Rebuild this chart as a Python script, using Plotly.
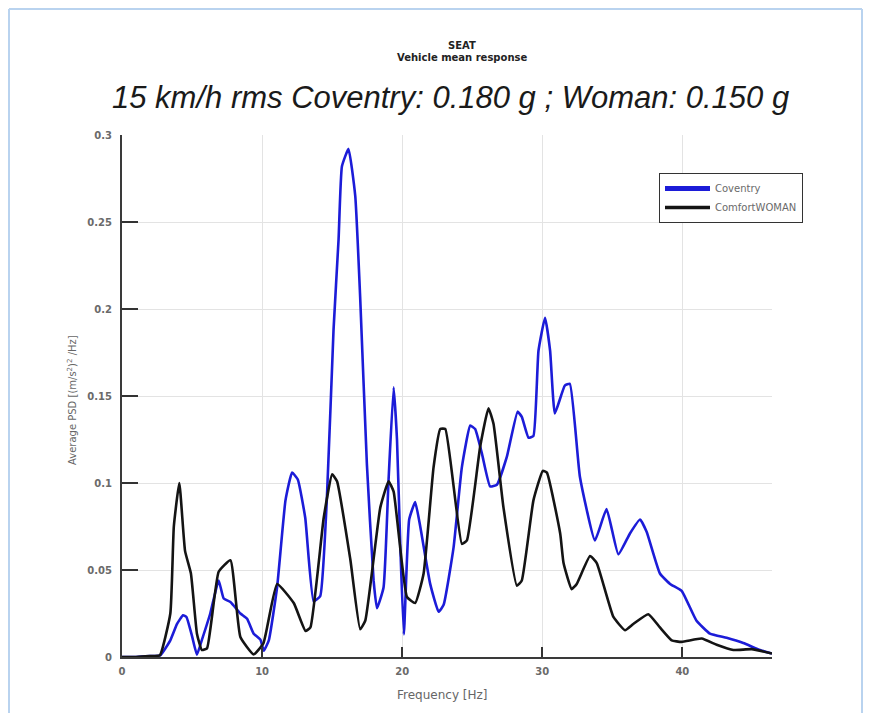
import plotly.graph_objects as go

# ---- data ----
freq_woman = [0, 1, 2, 2.7, 3.45, 3.7, 4.09, 4.5, 4.92, 5.35, 5.7, 6.07, 6.9, 7.74, 8.45, 9.4,
              10.1, 11.07, 12.26, 13.1, 13.45, 14.4, 15.0, 15.35, 16.3, 17.0, 17.37, 18.44,
              19.03, 19.39, 20.34, 20.93, 21.53, 22.24, 22.72, 23.08, 24.26, 24.62, 25.57,
              26.16, 26.52, 27.23, 28.19, 28.54, 29.37, 30.04, 30.33, 31.28, 31.52, 32.1,
              32.46, 33.41, 33.89, 35.08, 35.91, 36.5, 37.57, 38.4, 39.24, 39.95, 41.38,
              42.45, 43.64, 44.95, 46.4]
psd_woman = [0, 0, 0.0005, 0.001, 0.025, 0.075, 0.100, 0.061, 0.048, 0.0134, 0.004, 0.005,
             0.049, 0.0556, 0.0115, 0.0015, 0.008, 0.042, 0.031, 0.015, 0.017, 0.080, 0.105,
             0.101, 0.056, 0.016, 0.021, 0.086, 0.101, 0.095, 0.0345, 0.031, 0.048, 0.109,
             0.131, 0.131, 0.065, 0.067, 0.121, 0.143, 0.134, 0.086, 0.041, 0.044, 0.090,
             0.107, 0.106, 0.071, 0.054, 0.039, 0.042, 0.058, 0.054, 0.023, 0.0154, 0.019,
             0.0246, 0.017, 0.0096, 0.0087, 0.0106, 0.007, 0.004, 0.0045, 0.002]

freq_cov = [0, 1, 2, 2.73, 3.45, 3.93, 4.36, 4.6, 5.0, 5.35, 5.71, 6.3, 6.9, 7.26, 7.74, 8.45,
            8.93, 9.4, 9.88, 10.12, 10.48, 11.07, 11.67, 12.14, 12.55, 13.08, 13.68, 14.15,
            14.63, 15.1, 15.46, 15.7, 16.17, 16.65, 17.0, 17.48, 17.96, 18.2, 18.67, 19.03,
            19.39, 19.63, 19.87, 20.12, 20.5, 20.93, 21.29, 22.0, 22.6, 22.96, 23.67, 24.26,
            24.86, 25.21, 25.69, 26.28, 26.76, 27.47, 28.24, 28.54, 29.02, 29.37, 29.73,
            30.2, 30.56, 30.9, 31.61, 31.97, 32.69, 33.76, 34.59, 35.43, 36.26, 36.98,
            37.45, 38.4, 39.12, 39.95, 41.0, 41.97, 43.16, 44.35, 45.54, 46.4]
psd_cov = [0, 0, 0.0005, 0.001, 0.0096, 0.019, 0.024, 0.023, 0.012, 0.0013, 0.010, 0.025,
           0.044, 0.0336, 0.0316, 0.025, 0.022, 0.0134, 0.010, 0.0036, 0.0096, 0.040, 0.090,
           0.106, 0.102, 0.080, 0.032, 0.035, 0.092, 0.188, 0.240, 0.282, 0.292, 0.265,
           0.207, 0.111, 0.044, 0.028, 0.040, 0.102, 0.155, 0.125, 0.063, 0.013, 0.079,
           0.089, 0.075, 0.042, 0.026, 0.030, 0.063, 0.109, 0.133, 0.131, 0.117, 0.098,
           0.099, 0.115, 0.141, 0.138, 0.126, 0.127, 0.176, 0.195, 0.176, 0.140, 0.156,
           0.157, 0.1035, 0.067, 0.085, 0.059, 0.071, 0.079, 0.072, 0.048, 0.042, 0.038,
           0.021, 0.0134, 0.011, 0.008, 0.004, 0.002]

series_names = ["Coventry", "ComfortWOMAN"]
x_ticks = [0, 10, 20, 30, 40]
y_ticks = [0, 0.05, 0.1, 0.15, 0.2, 0.25, 0.3]
y_tick_labels = ["0", "0.05", "0.1", "0.15", "0.2", "0.25", "0.3"]

BLUE = "#1c1cd8"
BLACK = "#141414"

fig = go.Figure()
fig.add_trace(go.Scatter(x=freq_cov, y=psd_cov, mode="lines", showlegend=False,
                         line=dict(color=BLUE, width=2.6, shape="spline", smoothing=0.4)))
fig.add_trace(go.Scatter(x=freq_woman, y=psd_woman, mode="lines", showlegend=False,
                         line=dict(color=BLACK, width=2.6, shape="spline", smoothing=0.4)))
# legend entries (thicker legend lines as in reference)
fig.add_trace(go.Scatter(x=[None], y=[None], mode="lines", name=series_names[0],
                         line=dict(color=BLUE, width=5)))
fig.add_trace(go.Scatter(x=[None], y=[None], mode="lines", name=series_names[1],
                         line=dict(color=BLACK, width=3.5)))

TICKFONT = dict(family="DejaVu Sans", size=10, color="#6a6a6a", weight="bold")
axis_common = dict(showgrid=True, gridcolor="#e3e3e3", gridwidth=1, zeroline=False,
                   showline=True, linecolor="#3a3a3a", linewidth=2,
                   ticks="inside", tickcolor="#333333", tickwidth=2, tickfont=TICKFONT)

# the page body adds an 8 px offset, so the figure is 8 px smaller than the window
fig.update_layout(
    width=867, height=705,
    margin=dict(l=114, r=103, t=127, b=56),
    paper_bgcolor="white", plot_bgcolor="white",
    xaxis=dict(range=[0, 46.4], tickvals=x_ticks, ticklen=10, ticklabelstandoff=4,
               **axis_common),
    yaxis=dict(range=[0, 0.3], tickvals=y_ticks, ticktext=y_tick_labels, ticklen=16,
               ticklabelstandoff=6, **axis_common),
    legend=dict(x=(659 - 122) / 650, y=(657 - 173) / 522, xanchor="left", yanchor="top",
                bgcolor="white", bordercolor="#333333", borderwidth=1,
                font=dict(family="DejaVu Sans", size=10, color="#6a6a6a"),
                itemwidth=45, tracegroupgap=0),
)


def px_x(p):
    """page pixel x -> paper fraction"""
    return (p - 122) / 650


def px_y(p):
    """page pixel y -> paper fraction"""
    return (657 - p) / 522


fig.add_annotation(text="<b>SEAT</b>", xref="paper", yref="paper", x=px_x(462), y=px_y(45),
                   showarrow=False, font=dict(family="DejaVu Sans", size=10, color="#222"),
                   xanchor="center", yanchor="middle")
fig.add_annotation(text="<b>Vehicle mean response</b>", xref="paper", yref="paper",
                   x=px_x(462), y=px_y(57), showarrow=False,
                   font=dict(family="DejaVu Sans", size=10, color="#222"),
                   xanchor="center", yanchor="middle")
fig.add_annotation(text="<i>15 km/h rms Coventry: 0.180 g ; Woman: 0.150 g</i>",
                   xref="paper", yref="paper", x=px_x(450), y=px_y(97),
                   showarrow=False, font=dict(family="Liberation Sans", size=31, color="#1a1a1a"),
                   xanchor="center", yanchor="middle")
fig.add_annotation(text="Frequency [Hz]", xref="paper", yref="paper",
                   x=px_x(442), y=px_y(695), showarrow=False,
                   font=dict(family="DejaVu Sans", size=12, color="#666666"),
                   xanchor="center", yanchor="middle")
fig.add_annotation(text="Average PSD [(m/s<sup>2</sup>)<sup>2</sup> /Hz]", xref="paper",
                   yref="paper", x=px_x(72), y=px_y(400), textangle=-90,
                   showarrow=False, font=dict(family="DejaVu Sans", size=10, color="#666666"),
                   xanchor="center", yanchor="middle")

# light blue frame around the picture (left, top, right)
frame = dict(color="#b9d3ef", width=2)
for (x0, y0, x1, y1) in [(9, 9, 9, 720), (9, 9, 862, 9), (862, 9, 862, 720)]:
    fig.add_shape(type="line", xref="paper", yref="paper",
                  x0=px_x(x0), y0=px_y(y0), x1=px_x(x1), y1=px_y(y1), line=frame)

fig.write_html("out.html")
